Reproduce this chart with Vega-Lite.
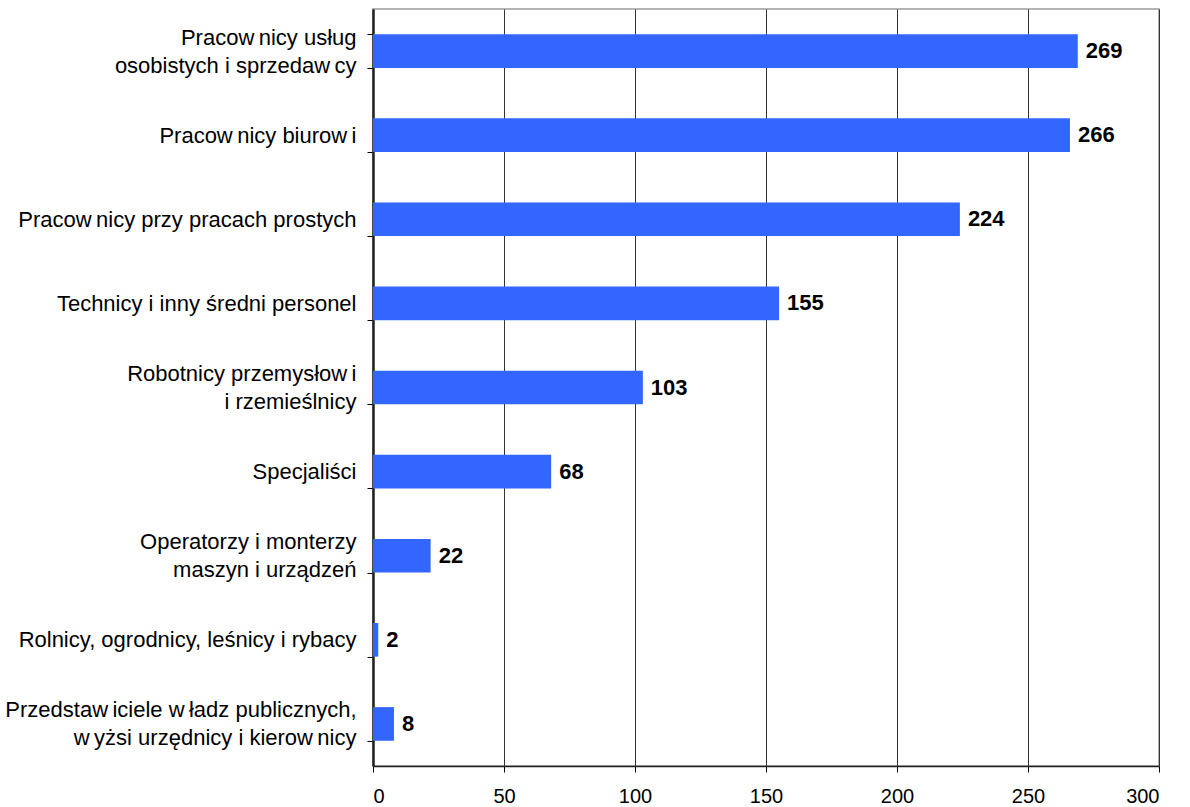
{
  "$schema": "https://vega.github.io/schema/vega-lite/v6.json",
  "autosize": {"type": "none"},
  "padding": {"left": 373, "top": 9, "right": 31, "bottom": 41},
  "width": 786,
  "height": 757,
  "background": "white",
  "config": {
    "font": "Liberation Sans",
    "view": {"stroke": "#9a9a9a", "strokeWidth": 1.5}
  },
  "data": {
    "values": [
      {"kategoria": "Pracow\u2009nicy usług|\u200b|osobistych i sprzedaw\u2009cy", "liczba": 269},
      {"kategoria": "|Pracow\u2009nicy biurow\u2009i", "liczba": 266},
      {"kategoria": "|Pracow\u2009nicy przy pracach prostych", "liczba": 224},
      {"kategoria": "|Technicy i inny średni personel", "liczba": 155},
      {"kategoria": "Robotnicy przemysłow\u2009i|\u200b|i rzemieślnicy", "liczba": 103},
      {"kategoria": "|Specjaliści", "liczba": 68},
      {"kategoria": "Operatorzy i monterzy|\u200b|maszyn i urządzeń", "liczba": 22},
      {"kategoria": "|Rolnicy, ogrodnicy, leśnicy i rybacy", "liczba": 2},
      {"kategoria": "Przedstaw\u2009iciele w\u2009ładz publicznych,|\u200b|w\u2009yżsi urzędnicy i kierow\u2009nicy", "liczba": 8}
    ]
  },
  "encoding": {
    "y": {
      "field": "kategoria",
      "type": "nominal",
      "sort": null,
      "scale": {"paddingInner": 0.6, "paddingOuter": 0.3},
      "axis": {
        "title": null,
        "tickBand": "extent",
        "labelExpr": "split(datum.label, '|')",
        "labelFontSize": 22,
        "labelColor": "#000",
        "labelLineHeight": 14,
        "labelOffset": -14,
        "labelPadding": 11,
        "labelLimit": 400,
        "tickSize": 6,
        "tickColor": "#000",
        "domainColor": "#222",
        "domainWidth": 2.5,
        "grid": false
      }
    },
    "x": {
      "field": "liczba",
      "type": "quantitative",
      "scale": {"domain": [0, 300], "nice": false},
      "axis": {
        "title": null,
        "values": [0, 50, 100, 150, 200, 250, 300],
        "labelFontSize": 20,
        "labelColor": "#000",
        "labelPadding": 14,
        "tickSize": 6,
        "tickColor": "#000",
        "domainColor": "#222",
        "domainWidth": 1.5,
        "grid": true,
        "gridColor": "#333",
        "gridWidth": 1
      }
    }
  },
  "layer": [
    {"mark": {"type": "bar", "color": "#3366FF"}},
    {
      "mark": {"type": "text", "align": "left", "baseline": "middle", "dx": 8, "fontSize": 22, "fontWeight": "bold", "color": "#000"},
      "encoding": {"text": {"field": "liczba", "type": "quantitative"}}
    }
  ]
}
